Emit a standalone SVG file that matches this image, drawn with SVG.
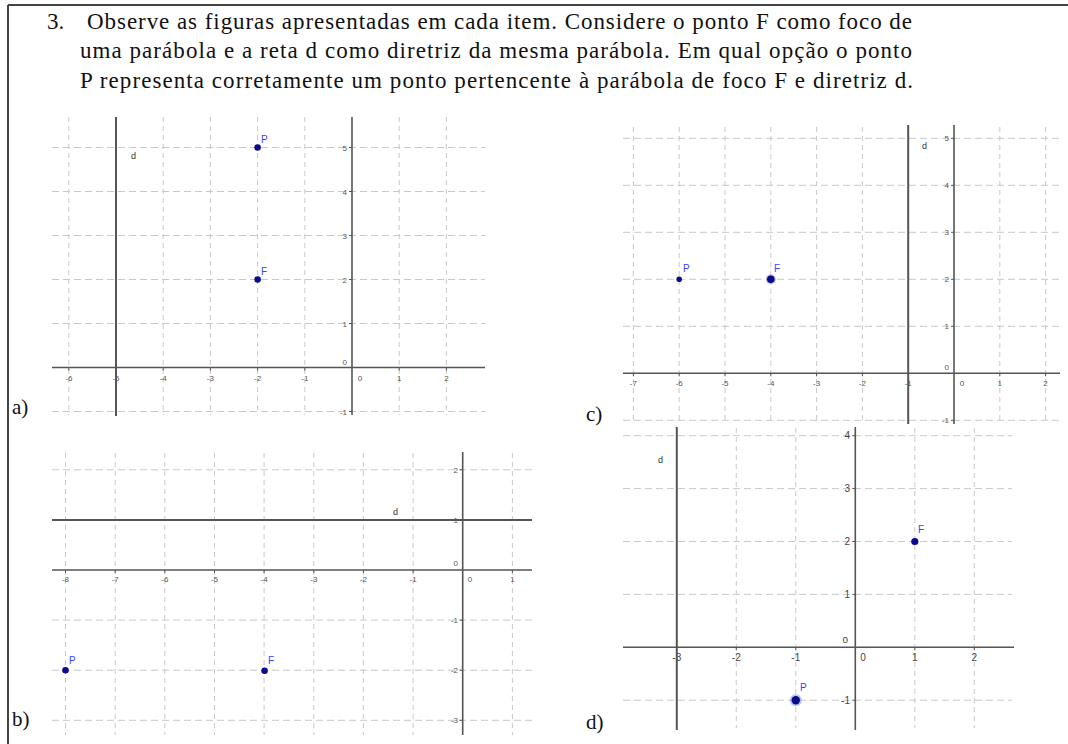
<svg xmlns="http://www.w3.org/2000/svg" width="1068" height="744" viewBox="0 0 1068 744">
<style>
.frame{stroke:#444;stroke-width:2;fill:none}
.hd{font-family:"Liberation Serif","Times New Roman",serif;font-size:23px;fill:#111}
.lbl{font-family:"Liberation Serif","Times New Roman",serif;font-size:21px;fill:#111}
.gh{stroke:#c9c9c9;stroke-width:1;stroke-dasharray:7 4;fill:none}
.gv{stroke:#c9c9c9;stroke-width:1;stroke-dasharray:5 4;fill:none}
.ax{stroke:#555;stroke-width:1.6;fill:none}
.dl{stroke:#555;stroke-width:2;fill:none}
.tick{stroke:#555;stroke-width:1;fill:none}
.tk{font-family:"Liberation Sans",Arial,sans-serif;font-size:8px;fill:#555;text-anchor:middle}
.tky{font-family:"Liberation Sans",Arial,sans-serif;font-size:8px;fill:#555;text-anchor:end}
.tkd{font-family:"Liberation Sans",Arial,sans-serif;font-size:10px;fill:#444;text-anchor:middle}
.tkdy{font-family:"Liberation Sans",Arial,sans-serif;font-size:10px;fill:#444;text-anchor:end}
.dn{font-family:"Liberation Sans",Arial,sans-serif;font-size:9px;fill:#333}
.pl{font-family:"Liberation Sans",Arial,sans-serif;font-size:10px;fill:#3344ff}
.pt{fill:#0a0a8c}
.halo{fill:#8899ee;opacity:0.6}
</style>

<g id="frame">
<path class="frame" d="M8 5H1068M8 5V744"/>
</g>

<g id="header">
<text class="hd" x="47" y="29">3.</text>
<text class="hd" x="87" y="29" textLength="825" lengthAdjust="spacing">Observe as figuras apresentadas em cada item. Considere o ponto F como foco de</text>
<text class="hd" x="80" y="58" textLength="832" lengthAdjust="spacing">uma parábola e a reta d como diretriz da mesma parábola. Em qual opção o ponto</text>
<text class="hd" x="80" y="88" textLength="833" lengthAdjust="spacing">P representa corretamente um ponto pertencente à parábola de foco F e diretriz d.</text>
</g>

<!-- Graph a -->
<g id="graph-a">
<path class="gh" d="M52 147.5H485M52 191.5H485M52 235.5H485M52 279.5H485M52 323.5H485M52 411.5H485"/>
<path class="gv" d="M68.8 117V415M163.2 117V415M210.4 117V415M257.6 117V415M304.8 117V415M399.2 117V415M446.4 117V415"/>
<path class="ax" d="M52 367.5H485M352 117V415"/>
<path class="tick" d="M68.8 367.5v3M116 367.5v3M163.2 367.5v3M210.4 367.5v3M257.6 367.5v3M304.8 367.5v3M399.2 367.5v3M446.4 367.5v3M352 147.5h-3M352 191.5h-3M352 235.5h-3M352 279.5h-3M352 323.5h-3M352 411.5h-3"/>
<g id="a-xlabels">
<text class="tk" x="68.8" y="381">-6</text><text class="tk" x="116" y="381">-5</text><text class="tk" x="163.2" y="381">-4</text><text class="tk" x="210.4" y="381">-3</text><text class="tk" x="257.6" y="381">-2</text><text class="tk" x="304.8" y="381">-1</text><text class="tk" x="360" y="381">0</text><text class="tk" x="399.2" y="381">1</text><text class="tk" x="446.4" y="381">2</text>
</g>
<g id="a-ylabels">
<text class="tky" x="347" y="150.5">5</text><text class="tky" x="347" y="194.5">4</text><text class="tky" x="347" y="238.5">3</text><text class="tky" x="347" y="282.5">2</text><text class="tky" x="347" y="326.5">1</text><text class="tky" x="347" y="365">0</text><text class="tky" x="347" y="414.5">-1</text>
</g>
<g id="a-d"><path class="dl" d="M116 117V416"/><text class="dn" x="131" y="159">d</text></g>
<g id="a-P"><circle class="pt" cx="257.6" cy="147.5" r="3.3"/><text class="pl" x="261" y="143">P</text></g>
<g id="a-F"><circle class="pt" cx="257.6" cy="279.5" r="3.3"/><text class="pl" x="261" y="275">F</text></g>
<text class="lbl" x="12" y="414">a)</text>
</g>

<!-- Graph c -->
<g id="graph-c">
<path class="gh" d="M623 138.3H1060M623 185.3H1060M623 232.3H1060M623 279.3H1060M623 326.3H1060M623 420.3H1060"/>
<path class="gv" d="M633.4 127V423M679.2 127V423M725 127V423M770.8 127V423M816.6 127V423M862.4 127V423M999.8 127V423M1045.6 127V423"/>
<path class="ax" d="M623 373.3H1060M954 125V424"/>
<path class="tick" d="M633.4 373.3v3M679.2 373.3v3M725 373.3v3M770.8 373.3v3M816.6 373.3v3M862.4 373.3v3M999.8 373.3v3M1045.6 373.3v3M954 138.3h-3M954 185.3h-3M954 232.3h-3M954 279.3h-3M954 326.3h-3M954 420.3h-3"/>
<g id="c-xlabels">
<text class="tk" x="633.4" y="386">-7</text><text class="tk" x="679.2" y="386">-6</text><text class="tk" x="725" y="386">-5</text><text class="tk" x="770.8" y="386">-4</text><text class="tk" x="816.6" y="386">-3</text><text class="tk" x="862.4" y="386">-2</text><text class="tk" x="908.2" y="386">-1</text><text class="tk" x="962" y="386">0</text><text class="tk" x="999.8" y="386">1</text><text class="tk" x="1045.6" y="386">2</text>
</g>
<g id="c-ylabels">
<text class="tky" x="949" y="141.3">5</text><text class="tky" x="949" y="188.3">4</text><text class="tky" x="949" y="235.3">3</text><text class="tky" x="949" y="282.3">2</text><text class="tky" x="949" y="329.3">1</text><text class="tky" x="949" y="370">0</text><text class="tky" x="949" y="423.3">-1</text>
</g>
<g id="c-d"><path class="dl" d="M908.2 125V424"/><text class="dn" x="922" y="149">d</text></g>
<g id="c-P"><circle class="pt" cx="679.2" cy="279.3" r="2.8"/><text class="pl" x="683" y="272">P</text></g>
<g id="c-F"><circle class="halo" cx="770.8" cy="279.3" r="5"/><circle class="pt" cx="770.8" cy="279.3" r="3.8"/><text class="pl" x="774" y="272">F</text></g>
<text class="lbl" x="586" y="421">c)</text>
</g>

<!-- Graph b -->
<g id="graph-b">
<path class="gh" d="M52 469.8H532M52 620.1H532M52 670.2H532M52 720.3H532"/>
<path class="gv" d="M65.5 453V735M115.2 453V735M164.8 453V735M214.5 453V735M264.1 453V735M313.8 453V735M363.4 453V735M413.1 453V735M512.4 453V735"/>
<path class="ax" d="M52 570H532M462.7 452V735"/>
<path class="tick" d="M65.5 570v3M115.2 570v3M164.8 570v3M214.5 570v3M264.1 570v3M313.8 570v3M363.4 570v3M413.1 570v3M512.4 570v3M462.7 469.8h-3M462.7 519.9h-3M462.7 620.1h-3M462.7 670.2h-3M462.7 720.3h-3"/>
<g id="b-xlabels">
<text class="tk" x="65.5" y="582">-8</text><text class="tk" x="115.2" y="582">-7</text><text class="tk" x="164.8" y="582">-6</text><text class="tk" x="214.5" y="582">-5</text><text class="tk" x="264.1" y="582">-4</text><text class="tk" x="313.8" y="582">-3</text><text class="tk" x="363.4" y="582">-2</text><text class="tk" x="413.1" y="582">-1</text><text class="tk" x="470" y="582">0</text><text class="tk" x="512.4" y="582">1</text>
</g>
<g id="b-ylabels">
<text class="tky" x="458" y="472.8">2</text><text class="tky" x="458" y="522.9">1</text><text class="tky" x="458" y="566">0</text><text class="tky" x="458" y="623.1">-1</text><text class="tky" x="458" y="673.2">-2</text><text class="tky" x="458" y="723.3">-3</text>
</g>
<g id="b-d"><path class="dl" d="M52 519.9H532"/><text class="dn" x="393" y="515">d</text></g>
<g id="b-P"><circle class="pt" cx="65.5" cy="670.2" r="3.3"/><text class="pl" x="69" y="664">P</text></g>
<g id="b-F"><circle class="pt" cx="264.6" cy="670.7" r="3.3"/><text class="pl" x="268" y="664">F</text></g>
<text class="lbl" x="12" y="726">b)</text>
</g>

<!-- Graph d -->
<g id="graph-d">
<path class="gh" d="M623 435.7H1012M623 488.6H1012M623 541.5H1012M623 594.4H1012M623 700.2H1012"/>
<path class="gv" d="M736.3 428V728M795.8 428V728M914.8 428V728M974.3 428V728"/>
<path class="ax" d="M623 647.3H1014M855.3 427V730"/>
<path class="tick" d="M736.3 647.3v3M795.8 647.3v3M914.8 647.3v3M974.3 647.3v3M855.3 435.7h-3M855.3 488.6h-3M855.3 541.5h-3M855.3 594.4h-3M855.3 700.2h-3"/>
<g id="d-xlabels">
<text class="tkd" x="676.8" y="661">-3</text><text class="tkd" x="736.3" y="661">-2</text><text class="tkd" x="795.8" y="661">-1</text><text class="tkd" x="863" y="661">0</text><text class="tkd" x="914.8" y="661">1</text><text class="tkd" x="974.3" y="661">2</text>
</g>
<g id="d-ylabels">
<text class="tkdy" x="850" y="439.2">4</text><text class="tkdy" x="850" y="492.1">3</text><text class="tkdy" x="850" y="545">2</text><text class="tkdy" x="850" y="597.9">1</text><text class="tkdy" x="848" y="643">o</text><text class="tkdy" x="850" y="703.7">-1</text>
</g>
<g id="d-d"><path class="dl" d="M676.8 427V730"/><text class="dn" x="658" y="463">d</text></g>
<g id="d-P"><circle class="halo" cx="795.8" cy="700.2" r="6"/><circle class="pt" cx="795.8" cy="700.2" r="4.2"/><text class="pl" x="800" y="691">P</text></g>
<g id="d-F"><circle class="pt" cx="914.8" cy="541.5" r="3.6"/><text class="pl" x="918" y="533">F</text></g>
<text class="lbl" x="586" y="729">d)</text>
</g>
</svg>
